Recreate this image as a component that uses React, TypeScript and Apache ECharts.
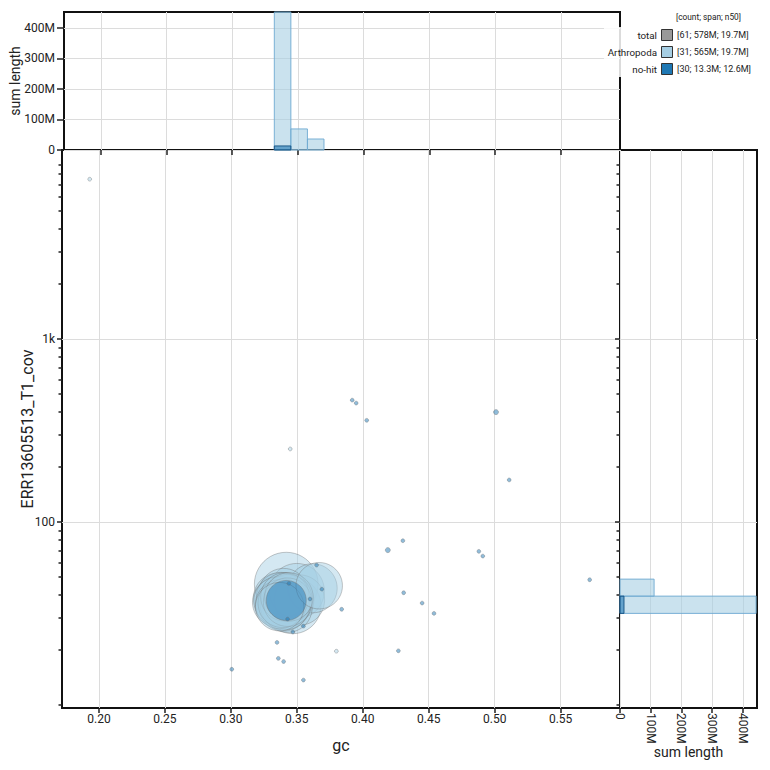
import React, { useEffect, useRef } from "react";
import * as echarts from "echarts";

// ---------- axis ranges & ticks ----------
const GC_MIN = 0.172;
const GC_MAX = 0.595;
const COV_MIN = 9.64;
const COV_MAX = 10800;
const TOP_MAX = 452e6;
const RIGHT_MAX = 446e6;

const gcTicks = [0.2, 0.25, 0.3, 0.35, 0.4, 0.45, 0.5, 0.55];
const covMajor = [100, 1000];
const covMajorLabels = ["100", "1k"];
const covDecades = [10, 100, 1000];
const covMultiples = [1, 2, 3, 4, 5, 6, 7, 8, 9];
const lenTicks = [0, 1e8, 2e8, 3e8, 4e8];
const lenTickLabels = ["0", "100M", "200M", "300M", "400M"];

// ---------- contigs: Arthropoda ----------
const arthGc = [
  0.342, 0.367, 0.362, 0.35, 0.34, 0.352, 0.347,
  0.335, 0.336, 0.337, 0.338, 0.338, 0.339, 0.34, 0.34, 0.341, 0.341, 0.342,
  0.342, 0.343, 0.343, 0.344, 0.344, 0.336, 0.339, 0.337, 0.343, 0.341,
  0.193, 0.38, 0.345,
];
const arthCov = [
  45.8, 44.9, 43.5, 42, 41, 37.5, 35,
  36.5, 38.5, 35.5, 37.5, 39, 36, 38, 34.5, 37, 39, 35.5,
  38.5, 36.5, 34, 37.5, 39, 37, 38.5, 34.5, 38, 35,
  7480, 19.7, 251,
];
const arthLen = [
  32e6, 17e6, 19e6, 24e6, 19e6, 20e6, 25e6,
  19e6, 19.5e6, 18.5e6, 20e6, 19e6, 18.5e6, 20e6, 19e6, 19.5e6, 18.5e6, 19e6,
  20e6, 18.5e6, 19e6, 19.5e6, 18.5e6, 19e6, 20e6, 18.5e6, 19e6, 19e6,
  20e3, 5e3, 4e3,
];

// ---------- contigs: no-hit ----------
const nohitGc = [
  0.342, 0.392, 0.395, 0.403, 0.501, 0.511, 0.4304, 0.419, 0.488, 0.491,
  0.572, 0.431, 0.445, 0.454, 0.384, 0.365, 0.344, 0.369, 0.36, 0.343,
  0.355, 0.347, 0.335, 0.336, 0.34, 0.355, 0.427, 0.3007,
];
const nohitCov = [
  37.3, 464, 447, 360, 399, 170, 79.1, 70.3, 69.2, 65.2,
  48.4, 41.1, 36.1, 31.7, 33.4, 58.2, 46.2, 43, 38, 29.5,
  27, 25.1, 22, 18, 17.3, 13.7, 19.8, 15.7,
];
const nohitLen = [
  12.6e6, 30e3, 30e3, 25e3, 200e3, 60e3, 15e3, 200e3, 20e3, 15e3,
  20e3, 20e3, 10e3, 15e3, 25e3, 50e3, 30e3, 30e3, 20e3, 20e3,
  15e3, 20e3, 20e3, 30e3, 15e3, 10e3, 20e3, 15e3,
];

// ---------- histograms ----------
const gcBinEdges = [0.332, 0.3446, 0.3572, 0.3698];
const gcArthSum = [460e6, 69e6, 36e6];
const gcNohitSum = [13.3e6, 0, 0];
const covBinEdges = [31.7, 39.4, 48.8];
const covArthSum = [443e6, 111e6];
const covNohitSum = [13e6, 0];

// ---------- legend ----------
const legendHeader = "[count; span; n50]";
const legendNames = ["total", "Arthropoda", "no-hit"];
const legendStats = ["[61; 578M; 19.7M]", "[31; 565M; 19.7M]", "[30; 13.3M; 12.6M]"];
const legendColors = ["#999999", "#a6cee3", "#1f78b4"];

const RADIUS_PER_SQRT_BP = 0.005634;
const lg = (v: number) => Math.log10(v);

function buildOption() {
  const yMin = lg(COV_MIN);
  const yMax = lg(COV_MAX);
  const majorLog = covMajor.map(lg);
  const minorLog: number[] = [];
  covDecades.forEach((d) =>
    covMultiples.forEach((m) => {
      const v = lg(m * d);
      if (m !== 1 || d === 10) {
        if (v >= yMin && v <= yMax) minorLog.push(v);
      }
    })
  );
  const tickLine = { lineStyle: { color: "#222", width: 1.5 } };
  const grid = "#dcdcdc";
  const labelStyle = { fontSize: 12, color: "#222", fontFamily: "Roboto" };
  const nameStyle = { fontSize: 16, color: "#222", fontFamily: "Roboto" };
  const covLabel = (v: number) => {
    const i = majorLog.findIndex((m) => Math.abs(m - v) < 1e-6);
    return i >= 0 ? covMajorLabels[i] : "";
  };
  const lenLabel = (v: number) => {
    const i = lenTicks.findIndex((m) => Math.abs(m - v) < 1);
    return i >= 0 ? lenTickLabels[i] : "";
  };
  const sizeOf = (val: number[]) =>
    Math.max(2 * RADIUS_PER_SQRT_BP * Math.sqrt(val[2]), 3.8);

  const arthData = arthGc
    .map((g, i) => [g, lg(arthCov[i]), arthLen[i]])
    .sort((a, b) => b[2] - a[2]);
  const nohitData = nohitGc
    .map((g, i) => [g, lg(nohitCov[i]), nohitLen[i]])
    .sort((a, b) => b[2] - a[2]);

  const clipRect = (r: any, cs: any) =>
    echarts.graphic.clipRectByRect(r, {
      x: cs.x,
      y: cs.y,
      width: cs.width,
      height: cs.height,
    });

  const topHist = (sums: number[], fill: string, stroke: string) => ({
    type: "custom",
    xAxisIndex: 1,
    yAxisIndex: 2,
    encode: { x: [0, 1], y: 2 },
    data: sums.map((s, i) => [gcBinEdges[i], gcBinEdges[i + 1], s]),
    renderItem: (params: any, api: any) => {
      const p0 = api.coord([api.value(0), api.value(2)]);
      const p1 = api.coord([api.value(1), 0]);
      const r = clipRect(
        { x: p0[0], y: p0[1], width: p1[0] - p0[0], height: p1[1] - p0[1] },
        params.coordSys
      );
      if (!r || api.value(2) <= 0) return null;
      return { type: "rect", shape: r, style: { fill, stroke, lineWidth: 1 } };
    },
  });

  const rightHist = (sums: number[], fill: string, stroke: string) => ({
    type: "custom",
    xAxisIndex: 2,
    yAxisIndex: 3,
    encode: { y: [0, 1], x: 2 },
    data: sums.map((s, i) => [lg(covBinEdges[i]), lg(covBinEdges[i + 1]), s]),
    renderItem: (params: any, api: any) => {
      const p0 = api.coord([0, api.value(1)]);
      const p1 = api.coord([api.value(2), api.value(0)]);
      const r = clipRect(
        { x: p0[0], y: p0[1], width: p1[0] - p0[0], height: p1[1] - p0[1] },
        params.coordSys
      );
      if (!r || api.value(2) <= 0) return null;
      return { type: "rect", shape: r, style: { fill, stroke, lineWidth: 1 } };
    },
  });

  const legendEls: any[] = [
    {
      type: "rect",
      shape: { x: 604, y: 27, width: 162, height: 50 },
      style: { fill: "rgba(255,255,255,0.85)" },
      z: 100,
    },
    {
      type: "text",
      x: 676,
      y: 17,
      style: {
        text: legendHeader,
        fontSize: 8.3,
        fontFamily: "Roboto",
        fill: "#222",
        textVerticalAlign: "middle",
      },
      z: 101,
    },
  ];
  legendNames.forEach((n, i) => {
    const y = 35 + i * 17;
    legendEls.push(
      {
        type: "text",
        x: 657,
        y,
        style: {
          text: n,
          fontSize: 9.8,
          fontFamily: "Roboto",
          fill: "#222",
          textAlign: "right",
          textVerticalAlign: "middle",
        },
        z: 101,
      },
      {
        type: "rect",
        shape: { x: 661.5, y: y - 5.5, width: 11, height: 11 },
        style: { fill: legendColors[i], stroke: "#333", lineWidth: 1 },
        z: 101,
      },
      {
        type: "text",
        x: 677,
        y,
        style: {
          text: legendStats[i],
          fontSize: 9,
          fontFamily: "Roboto",
          fill: "#222",
          textVerticalAlign: "middle",
        },
        z: 101,
      }
    );
  });

  const gridStyle = {
    show: true,
    borderColor: "#111",
    borderWidth: 2,
    backgroundColor: "transparent",
    containLabel: false,
  };

  return {
    animation: false,
    textStyle: { fontFamily: "Roboto" },
    grid: [
      { ...gridStyle, left: 62, top: 150, width: 558, height: 558 },
      { ...gridStyle, left: 62, top: 12, width: 558, height: 138 },
      { ...gridStyle, left: 620, top: 150, width: 137, height: 558 },
    ],
    xAxis: [
      {
        gridIndex: 0,
        type: "value",
        min: GC_MIN,
        max: GC_MAX,
        axisLine: { show: false },
        axisTick: { show: true, customValues: gcTicks, length: 5, ...tickLine },
        axisLabel: {
          customValues: gcTicks,
          formatter: (v: number) => v.toFixed(2),
          margin: 5,
          ...labelStyle,
        },
        splitLine: { show: true, lineStyle: { color: grid } },
        name: "gc",
        nameLocation: "middle",
        nameGap: 29,
        nameMoveOverlap: false,
        nameTextStyle: nameStyle,
      },
      {
        gridIndex: 1,
        type: "value",
        min: GC_MIN,
        max: GC_MAX,
        axisLine: { show: false },
        axisTick: { show: true, customValues: gcTicks, length: 5, ...tickLine },
        axisLabel: { show: false },
        splitLine: { show: true, lineStyle: { color: grid } },
      },
      {
        gridIndex: 2,
        type: "value",
        min: 0,
        max: RIGHT_MAX,
        axisLine: { show: false },
        axisTick: { show: true, customValues: lenTicks, length: 5, ...tickLine },
        axisLabel: {
          customValues: lenTicks,
          formatter: lenLabel,
          rotate: -90,
          margin: 5,
          ...labelStyle,
        },
        splitLine: { show: true, lineStyle: { color: grid } },
        name: "sum length",
        nameLocation: "middle",
        nameGap: 37,
        nameMoveOverlap: false,
        nameTextStyle: { ...nameStyle, fontSize: 14 },
      },
    ],
    yAxis: [
      {
        gridIndex: 0,
        type: "value",
        min: yMin,
        max: yMax,
        axisLine: { show: false },
        axisTick: { show: true, customValues: majorLog, length: 5, ...tickLine },
        axisLabel: { customValues: majorLog, formatter: covLabel, margin: 7, ...labelStyle },
        splitLine: { show: true, lineStyle: { color: grid } },
        name: "ERR13605513_T1_cov",
        nameLocation: "middle",
        nameGap: 27,
        nameMoveOverlap: false,
        nameTextStyle: nameStyle,
      },
      {
        gridIndex: 0,
        type: "value",
        min: yMin,
        max: yMax,
        position: "left",
        axisLine: { show: false },
        axisTick: { show: true, customValues: minorLog, length: 3.5, ...tickLine },
        axisLabel: { show: false },
        splitLine: { show: false },
      },
      {
        gridIndex: 1,
        type: "value",
        min: 0,
        max: TOP_MAX,
        axisLine: { show: false },
        axisTick: { show: true, customValues: lenTicks, length: 7, ...tickLine },
        axisLabel: { customValues: lenTicks, formatter: lenLabel, margin: 9, ...labelStyle },
        splitLine: { show: true, lineStyle: { color: grid } },
        name: "sum length",
        nameLocation: "middle",
        nameGap: 42,
        nameMoveOverlap: false,
        nameTextStyle: { ...nameStyle, fontSize: 14 },
      },
      {
        gridIndex: 2,
        type: "value",
        min: yMin,
        max: yMax,
        position: "left",
        axisLine: { show: false },
        axisTick: { show: true, customValues: majorLog, length: 5, ...tickLine },
        axisLabel: { show: false },
        splitLine: { show: true, lineStyle: { color: grid } },
      },
      {
        gridIndex: 2,
        type: "value",
        min: yMin,
        max: yMax,
        position: "left",
        axisLine: { show: false },
        axisTick: { show: true, customValues: minorLog, length: 3.5, ...tickLine },
        axisLabel: { show: false },
        splitLine: { show: false },
      },
    ],
    series: [
      topHist(gcArthSum, "rgba(166,206,227,0.6)", "rgba(110,170,210,0.9)"),
      topHist(gcNohitSum, "rgba(31,120,180,0.6)", "rgba(20,80,130,0.9)"),
      rightHist(covArthSum, "rgba(166,206,227,0.6)", "rgba(110,170,210,0.9)"),
      rightHist(covNohitSum, "rgba(31,120,180,0.6)", "rgba(20,80,130,0.9)"),
      {
        type: "scatter",
        name: "Arthropoda",
        xAxisIndex: 0,
        yAxisIndex: 0,
        data: arthData,
        symbolSize: sizeOf,
        itemStyle: {
          color: "rgba(166,206,227,0.6)",
          borderColor: "rgba(110,110,110,0.6)",
          borderWidth: 0.8,
        },
      },
      {
        type: "scatter",
        name: "no-hit",
        xAxisIndex: 0,
        yAxisIndex: 0,
        data: nohitData,
        symbolSize: sizeOf,
        itemStyle: {
          color: "rgba(31,120,180,0.62)",
          borderColor: "rgba(110,110,110,0.6)",
          borderWidth: 0.8,
        },
      },
    ],
    graphic: legendEls,
  };
}

export default function App() {
  const ref = useRef<HTMLDivElement>(null);
  useEffect(() => {
    if (!ref.current) return;
    const chart = echarts.init(ref.current, undefined, { renderer: "svg" });
    chart.setOption(buildOption() as any);
    return () => chart.dispose();
  }, []);
  return (
    <div
      ref={ref}
      style={{ position: "fixed", left: 0, top: 0, width: 770, height: 770, background: "#fff" }}
    />
  );
}
